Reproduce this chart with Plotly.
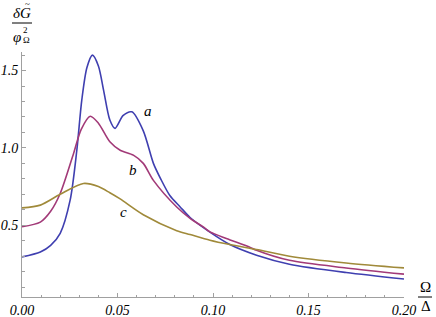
import plotly.graph_objects as go

# Curve a (blue)
xa = [0.0, 0.0096, 0.015, 0.020, 0.0252, 0.0287, 0.0313, 0.034, 0.0369, 0.0400, 0.0427, 0.046, 0.0487,
      0.053, 0.0575, 0.0635, 0.0688, 0.0726, 0.0775, 0.0827, 0.088, 0.0984, 0.1088, 0.1228, 0.140, 0.1697, 0.2]
ya = [0.295, 0.327, 0.37, 0.448, 0.662, 0.985, 1.309, 1.52, 1.60, 1.53, 1.374, 1.18, 1.126,
      1.21, 1.233, 1.11, 0.90, 0.80, 0.69, 0.62, 0.55, 0.455, 0.375, 0.306, 0.248, 0.194, 0.152]

# Curve b (magenta)
xb = [0.0, 0.0096, 0.015, 0.020, 0.027, 0.031, 0.0357, 0.040, 0.046, 0.0514, 0.0583, 0.0635, 0.0688,
      0.081, 0.088, 0.0949, 0.0984, 0.107, 0.119, 0.1228, 0.140, 0.1697, 0.2]
yb = [0.49, 0.52, 0.59, 0.705, 0.964, 1.12, 1.205, 1.16, 1.04, 0.985, 0.953, 0.90, 0.79,
      0.618, 0.545, 0.489, 0.457, 0.414, 0.36, 0.338, 0.273, 0.224, 0.184]

# Curve c (olive)
xc = [0.0, 0.0096, 0.020, 0.0322, 0.040, 0.046, 0.0514, 0.0635, 0.081, 0.088, 0.0984, 0.1088,
      0.1228, 0.140, 0.1697, 0.2]
yc = [0.612, 0.63, 0.70, 0.77, 0.75, 0.71, 0.67, 0.568, 0.465, 0.44, 0.403, 0.375,
      0.343, 0.30, 0.256, 0.224]

curve_labels = ["a", "b", "c"]
label_x = [0.0658, 0.0583, 0.0531]
label_y = [1.238, 0.856, 0.586]

colors = ["#3f3fb0", "#a23a78", "#a08a3a"]

fig = go.Figure()
for xs, ys, c in [(xa, ya, colors[0]), (xb, yb, colors[1]), (xc, yc, colors[2])]:
    fig.add_trace(go.Scatter(x=xs, y=ys, mode="lines", line=dict(color=c, width=1.6, shape="spline", smoothing=0.8),
                             showlegend=False, hoverinfo="skip"))

serif = "Liberation Serif"
axis_gray = "#a0a0a0"
W, H = 436, 317
ML, MR, MT, MB = 22, 32, 52, 20
fig.update_layout(
    width=W, height=H,
    margin=dict(l=ML, r=MR, t=MT, b=MB, autoexpand=False),
    paper_bgcolor="white", plot_bgcolor="white",
    font=dict(family=serif, size=14, color="black"),
    xaxis=dict(range=[0, 0.2], showgrid=False, zeroline=False, showline=True, linecolor=axis_gray, linewidth=1,
               automargin=False,
               ticks="inside", ticklen=4, tickcolor=axis_gray, dtick=0.05, tick0=0, tickformat=".2f",
               tickfont=dict(family=serif, size=14, style="italic"),
               minor=dict(dtick=0.01, ticks="inside", ticklen=2.5, tickcolor=axis_gray, showgrid=False)),
    yaxis=dict(range=[0.036, 1.62], showgrid=False, zeroline=False, showline=True, linecolor=axis_gray, linewidth=1,
               automargin=False,
               ticks="inside", ticklen=4, tickcolor=axis_gray, dtick=0.5, tick0=0, tickformat=".1f",
               tickfont=dict(family=serif, size=14, style="italic"),
               minor=dict(dtick=0.1, ticks="inside", ticklen=2.5, tickcolor=axis_gray, showgrid=False)),
)

for t, x, y in zip(curve_labels, label_x, label_y):
    fig.add_annotation(x=x, y=y, text="<i>%s</i>" % t, showarrow=False, font=dict(family=serif, size=15))

# helper: place text by pixel position (window coords) using paper refs
pw, ph = W - ML - MR, H - MT - MB
def px2paper(px, py):
    return (px - ML) / pw, (H - MB - py) / ph

def txt(px, py, s, size):
    x, y = px2paper(px, py)
    fig.add_annotation(xref="paper", yref="paper", x=x, y=y, text=s, showarrow=False,
                       xanchor="center", yanchor="middle", borderpad=0,
                       font=dict(family=serif, size=size, color="black"))

def hline(px0, px1, py):
    x0, y = px2paper(px0, py)
    x1, _ = px2paper(px1, py)
    fig.add_shape(type="line", xref="paper", yref="paper", x0=x0, x1=x1, y0=y, y1=y,
                  line=dict(color="black", width=1))

# y-axis title: deltaG~ / phi_Omega^2
txt(22, 13, "<i>δG</i>", 15)
txt(27, 4, "~", 9)
hline(12, 32, 23)
txt(17, 37, "<i>φ</i>", 15)
txt(25, 30, "2", 9)
txt(26, 40, "Ω", 9)

# x-axis title: Omega / Delta
txt(425, 287, "Ω", 15)
hline(418, 432, 297)
txt(426, 306, "Δ", 15)

fig.write_html("out.html", config={"displayModeBar": False},
               post_script="document.body.style.margin='0';document.body.style.padding='0';")
